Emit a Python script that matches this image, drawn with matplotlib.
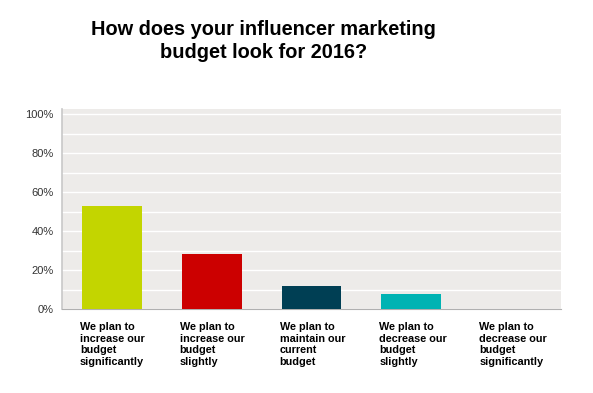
import matplotlib.pyplot as plt
import matplotlib.transforms as mtransforms
import numpy as np

plt.rcParams['font.family'] = ['Liberation Sans', 'DejaVu Sans']

labels = ["We plan to\nincrease our\nbudget\nsignificantly",
          "We plan to\nincrease our\nbudget\nslightly",
          "We plan to\nmaintain our\ncurrent\nbudget",
          "We plan to\ndecrease our\nbudget\nslightly",
          "We plan to\ndecrease our\nbudget\nsignificantly"]
values = [52.8, 28.2, 11.8, 7.7, 0]
colors = ['#c3d500', '#cc0000', '#003f54', '#00b3b3', '#888888']

fig = plt.figure(figsize=(5.93, 3.93), dpi=100)
ax = fig.add_axes([0.1046, 0.2137, 0.8415, 0.509])
ax.set_facecolor('#edebe9')

x = np.arange(len(values))
ax.bar(x, values, width=0.6, color=colors, zorder=3)

ax.set_xlim(-0.5, 4.5)
ax.set_ylim(0, 102.6)
ax.set_yticks(np.arange(0, 101, 20))
ax.set_yticklabels([f"{v}%" for v in range(0, 101, 20)], fontsize=8, color='#333333')
ax.set_yticks(np.arange(10, 100, 20), minor=True)
ax.grid(axis='y', which='both', color='white', linewidth=1, zorder=1)
ax.tick_params(axis='y', which='both', length=0, pad=6)
ax.set_xticks([])

for s in ['top', 'right']:
    ax.spines[s].set_visible(False)
ax.spines['left'].set_color('#c8c8c8')
ax.spines['bottom'].set_color('#b0b0b0')
ax.spines['left'].set_linewidth(1.2)

trans = mtransforms.blended_transform_factory(ax.transData, ax.transAxes)
for i, lab in enumerate(labels):
    ax.text(i - 0.32, -0.065, lab, transform=trans, ha='left', va='top',
            fontsize=7.8, fontweight='bold', linespacing=1.2)

fig.text(0.445, 0.948, "How does your influencer marketing\nbudget look for 2016?",
         ha='center', va='top', fontsize=14.4, fontweight='bold', linespacing=1.22)

fig.savefig('out.png', dpi=100, facecolor='white')
